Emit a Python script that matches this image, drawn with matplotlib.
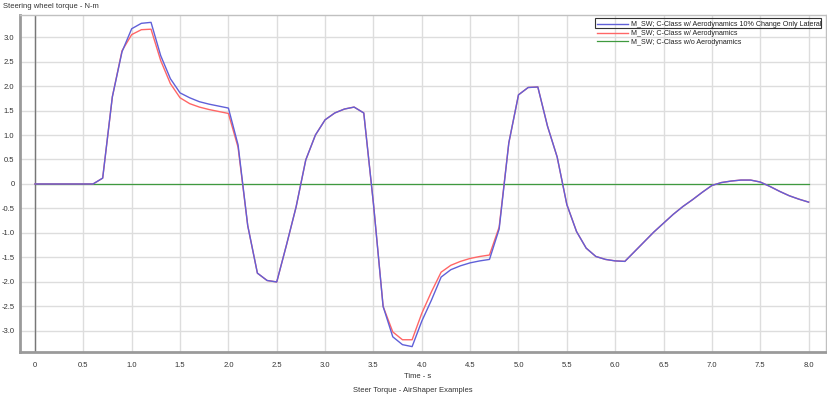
import numpy as np
import matplotlib
matplotlib.use("Agg")
import matplotlib.pyplot as plt
import matplotlib.ticker as mticker
from matplotlib.patches import Rectangle

# time axis, 0.1 s steps
time_s = [round(0.1 * i, 1) for i in range(81)]

torque_10pct_lateral = [
    0, 0, 0, 0, 0, 0, 0, 0.12, 1.78, 2.70,
    3.17, 3.28, 3.30, 2.62, 2.15, 1.86, 1.76, 1.68, 1.63, 1.59,
    1.55, 0.80, -0.85, -1.82, -1.97, -2.00, -1.25, -0.47, 0.49, 1.00,
    1.31, 1.45, 1.53, 1.57, 1.45, -0.40, -2.50, -3.12, -3.28, -3.32,
    -2.80, -2.37, -1.90, -1.75, -1.67, -1.61, -1.57, -1.54, -0.92, 0.84,
    1.82, 1.97, 1.98, 1.18, 0.55, -0.42, -0.97, -1.31, -1.48, -1.54,
    -1.57, -1.58, -1.38, -1.18, -0.98, -0.80, -0.62, -0.46, -0.32, -0.17,
    -0.03, 0.03, 0.06, 0.08, 0.08, 0.04, -0.05, -0.15, -0.24, -0.31,
    -0.37,
]

torque_aero = [
    0, 0, 0, 0, 0, 0, 0, 0.12, 1.78, 2.72,
    3.05, 3.15, 3.16, 2.52, 2.05, 1.76, 1.64, 1.57, 1.52, 1.48,
    1.44, 0.75, -0.85, -1.82, -1.97, -2.00, -1.25, -0.47, 0.49, 1.00,
    1.31, 1.45, 1.53, 1.57, 1.45, -0.40, -2.50, -3.02, -3.18, -3.18,
    -2.64, -2.20, -1.80, -1.66, -1.58, -1.52, -1.48, -1.45, -0.88, 0.84,
    1.82, 1.97, 1.98, 1.18, 0.55, -0.42, -0.97, -1.31, -1.48, -1.54,
    -1.57, -1.58, -1.38, -1.18, -0.98, -0.80, -0.62, -0.46, -0.32, -0.17,
    -0.03, 0.03, 0.06, 0.08, 0.08, 0.04, -0.05, -0.15, -0.24, -0.31,
    -0.37,
]

torque_no_aero = [0.0] * 81

labels = [
    "M_SW; C-Class w/ Aerodynamics 10% Change Only Lateral",
    "M_SW; C-Class w/ Aerodynamics",
    "M_SW; C-Class w/o Aerodynamics",
]

plt.rcParams["font.family"] = ["Liberation Sans", "DejaVu Sans"]
fs = 5.5
W, H = 828, 397

fig = plt.figure(figsize=(W / 100, H / 100), dpi=100)
ax = fig.add_axes([20 / W, 45 / H, 806 / W, 337 / H])

ax.plot(time_s, torque_10pct_lateral, color="#6060d8", lw=1.0, label=labels[0], zorder=4)
ax.plot(time_s, torque_aero, color="#ff6666", lw=1.0, label=labels[1], zorder=3)
ax.plot(time_s, torque_no_aero, color="#3f9a3f", lw=0.9, label=labels[2], zorder=2)

ax.axvline(0, color="#777777", lw=1.0, zorder=1)

ax.set_xlim(-0.155, 8.18)
ax.set_ylim(-3.43, 3.45)
ax.xaxis.set_major_locator(mticker.MultipleLocator(0.5))
ax.yaxis.set_major_locator(mticker.MultipleLocator(0.5))
fmt = mticker.FuncFormatter(lambda v, p: "0" if abs(v) < 1e-9 else f"{v:.1f}")
ax.xaxis.set_major_formatter(fmt)
ax.yaxis.set_major_formatter(fmt)
ax.tick_params(length=0, labelsize=fs, colors="#333333")
ax.tick_params(axis="x", pad=7)
ax.tick_params(axis="y", pad=4)
ax.grid(True, color="#dddddd", lw=1.0, zorder=0)
ax.set_axisbelow(True)

for side in ["left", "bottom"]:
    ax.spines[side].set_color("#9a9a9a")
    ax.spines[side].set_linewidth(2.0)
for side in ["top", "right"]:
    ax.spines[side].set_color("#c0c0c0")
    ax.spines[side].set_linewidth(1.0)

leg = ax.legend(loc="upper left", bbox_to_anchor=(597 / W, 1 - 21 / H),
                bbox_transform=fig.transFigure, frameon=False, fontsize=5.1,
                handlelength=4.4, handletextpad=0.4, labelspacing=0.28,
                borderpad=0, borderaxespad=0)
for t in leg.get_texts():
    t.set_color("#222222")

fig.add_artist(Rectangle((595 / W, 1 - 27.5 / H), 226 / W, 9 / H,
                         transform=fig.transFigure, fill=False,
                         ec="#333333", lw=0.8))

fig.text(3 / W, 1 - 7 / H, "Steering wheel torque - N-m", fontsize=fs,
         color="#333333", ha="left", va="center")
fig.text(418 / W, 1 - 376 / H, "Time - s", fontsize=fs, color="#333333",
         ha="center", va="center")
fig.text(413 / W, 1 - 390 / H, "Steer Torque - AirShaper Examples", fontsize=fs,
         color="#333333", ha="center", va="center")

fig.savefig("out.png", dpi=100)
